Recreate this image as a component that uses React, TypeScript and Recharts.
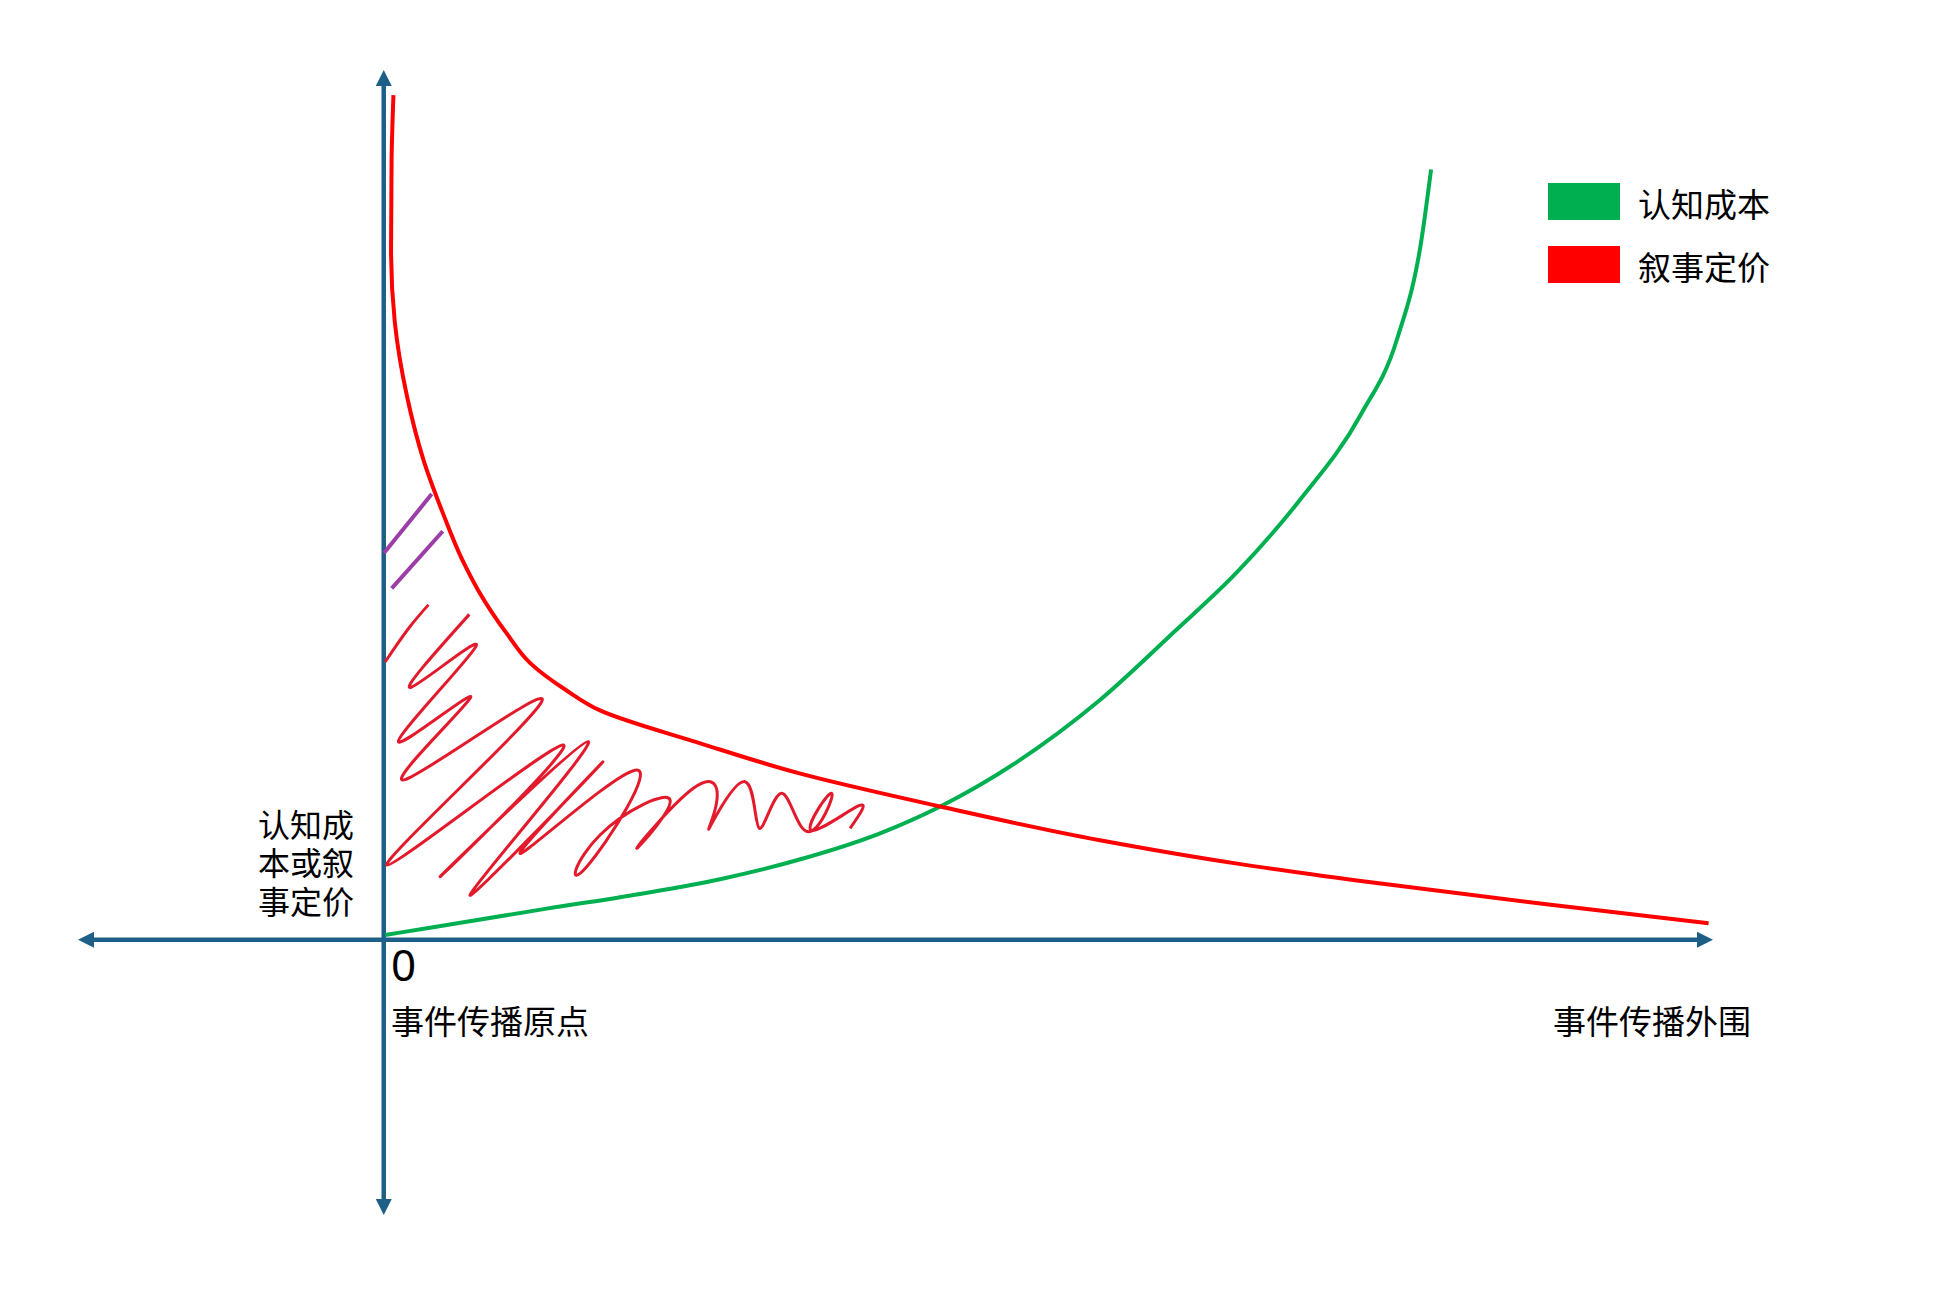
import { LineChart, Line, XAxis, YAxis, ReferenceLine } from "recharts";

// 事件传播距离 (x) vs 认知成本 / 叙事定价 (y), arbitrary units
const cognitiveCost = [
  { x: 0.1, y: 0.55 },
  { x: 3.48, y: 1.4 },
  { x: 12.26, y: 3.6 },
  { x: 19.28, y: 5.3 },
  { x: 25.3, y: 7.0 },
  { x: 31.35, y: 9.3 },
  { x: 37.34, y: 12.3 },
  { x: 41.87, y: 15.4 },
  { x: 53.88, y: 27.7 },
  { x: 59.55, y: 35.7 },
  { x: 64.21, y: 42.5 },
  { x: 68.86, y: 50.7 },
  { x: 73.51, y: 60.7 },
  { x: 76.21, y: 69.3 },
  { x: 78.07, y: 80.9 },
  { x: 78.79, y: 89.0 },
];

const narrativePricing = [
  { x: 0.73, y: 97.6 },
  { x: 0.59, y: 90.0 },
  { x: 0.55, y: 79.7 },
  { x: 0.83, y: 71.4 },
  { x: 1.75, y: 62.8 },
  { x: 3.0, y: 55.4 },
  { x: 4.45, y: 49.3 },
  { x: 5.94, y: 43.8 },
  { x: 7.1, y: 40.4 },
  { x: 9.25, y: 35.4 },
  { x: 11.0, y: 32.0 },
  { x: 13.76, y: 28.8 },
  { x: 16.27, y: 26.5 },
  { x: 23.82, y: 22.7 },
  { x: 31.35, y: 19.2 },
  { x: 41.87, y: 15.4 },
  { x: 53.88, y: 11.5 },
  { x: 64.21, y: 8.8 },
  { x: 73.51, y: 6.8 },
  { x: 87.47, y: 4.1 },
  { x: 99.67, y: 1.9 },
];

// hand-drawn marks inside the gap
const hatchTop = [
  { x: 3.61, y: 51.5 },
  { x: 0.02, y: 44.7 },
];
const hatchBottom = [
  { x: 4.44, y: 47.2 },
  { x: 0.6, y: 40.6 },
];

const scribbleArc = [
  { x: 3.36, y: 38.7 },
  { x: 1.98, y: 36.2 },
  { x: 0.72, y: 33.5 },
  { x: 0.1, y: 32.1 },
];

const scribbleZigzag = [
  { x: 6.44, y: 37.6 },
  { x: 2.1, y: 29.2 },
  { x: 6.94, y: 33.9 },
  { x: 1.1, y: 22.9 },
  { x: 6.54, y: 28.0 },
  { x: 1.6, y: 18.5 },
  { x: 11.88, y: 27.5 },
  { x: 0.23, y: 8.64 },
  { x: 13.51, y: 22.5 },
  { x: 4.24, y: 7.29 },
  { x: 15.39, y: 22.9 },
  { x: 6.49, y: 5.18 },
  { x: 16.4, y: 20.4 },
  { x: 10.25, y: 10.0 },
  { x: 18.9, y: 19.6 },
  { x: 15.27, y: 8.45 },
  { x: 16.27, y: 12.11 },
  { x: 21.54, y: 16.15 },
  { x: 19.03, y: 10.57 },
  { x: 23.29, y: 17.5 },
  { x: 25.05, y: 15.96 },
  { x: 24.55, y: 13.07 },
  { x: 27.18, y: 18.27 },
  { x: 28.26, y: 12.88 },
  { x: 29.94, y: 16.93 },
  { x: 31.94, y: 12.49 },
  { x: 33.7, y: 16.93 },
  { x: 32.12, y: 12.69 },
  { x: 35.7, y: 15.46 },
  { x: 35.08, y: 12.88 },
];

const legendItems = [
  { name: "认知成本", color: "#00B050" },
  { name: "叙事定价", color: "#FF0000" },
];

const yAxisLabel = ["认知成", "本或叙", "事定价"];
const originLabel = "事件传播原点";
const outerLabel = "事件传播外围";

const AXIS = "#1D5F86";
const CJK = '"Microsoft YaHei", "Noto Sans CJK SC", sans-serif';

function ArrowAxis(props: any) {
  const { x1, y1, x2, y2 } = props;
  const a = 16;
  const h = 8;
  if (Math.abs(y1 - y2) < 1) {
    const lo = Math.min(x1, x2);
    const hi = Math.max(x1, x2);
    return (
      <g>
        <line x1={lo + 10} y1={y1} x2={hi - 10} y2={y1} stroke={AXIS} strokeWidth={4.5} />
        <path d={`M${lo},${y1}L${lo + a},${y1 - h}L${lo + a},${y1 + h}Z`} fill={AXIS} />
        <path d={`M${hi},${y1}L${hi - a},${y1 - h}L${hi - a},${y1 + h}Z`} fill={AXIS} />
      </g>
    );
  }
  const lo = Math.min(y1, y2);
  const hi = Math.max(y1, y2);
  return (
    <g>
      <line x1={x1} y1={lo + 10} x2={x1} y2={hi - 10} stroke={AXIS} strokeWidth={4.5} />
      <path d={`M${x1},${lo}L${x1 - h},${lo + a}L${x1 + h},${lo + a}Z`} fill={AXIS} />
      <path d={`M${x1},${hi}L${x1 - h},${hi - a}L${x1 + h},${hi - a}Z`} fill={AXIS} />
    </g>
  );
}

export default function App() {
  return (
    <div style={{ position: "absolute", left: 0, top: 0, width: 1940, height: 1304, background: "#fff" }}>
      <LineChart
        width={1940}
        height={1304}
        margin={{ top: 70, right: 227, bottom: 89, left: 78 }}
      >
        <XAxis type="number" dataKey="x" domain={[-23, 100]} allowDataOverflow hide />
        <YAxis type="number" dataKey="y" domain={[-31.8, 100.5]} allowDataOverflow hide />
        <ReferenceLine y={0} shape={ArrowAxis} />
        <ReferenceLine x={0} shape={ArrowAxis} />
        <Line
          data={hatchTop}
          dataKey="y"
          type="linear"
          stroke="#9B3FA6"
          strokeWidth={4}
          dot={false}
          activeDot={false}
          isAnimationActive={false}
        />
        <Line
          data={hatchBottom}
          dataKey="y"
          type="linear"
          stroke="#9B3FA6"
          strokeWidth={4}
          dot={false}
          activeDot={false}
          isAnimationActive={false}
        />
        <Line
          data={scribbleArc}
          dataKey="y"
          type="natural"
          stroke="#E31A2C"
          strokeWidth={3}
          dot={false}
          activeDot={false}
          isAnimationActive={false}
        />
        <Line
          data={scribbleZigzag}
          dataKey="y"
          type="natural"
          stroke="#E31A2C"
          strokeWidth={3}
          strokeLinejoin="round"
          dot={false}
          activeDot={false}
          isAnimationActive={false}
        />
        <Line
          data={cognitiveCost}
          dataKey="y"
          name="认知成本"
          type="monotone"
          stroke="#00B050"
          strokeWidth={4}
          dot={false}
          activeDot={false}
          isAnimationActive={false}
        />
        <Line
          data={narrativePricing}
          dataKey="y"
          name="叙事定价"
          type="monotoneY"
          stroke="#FF0000"
          strokeWidth={4}
          dot={false}
          activeDot={false}
          isAnimationActive={false}
        />
      </LineChart>
      <svg
        width={1940}
        height={1304}
        style={{ position: "absolute", left: 0, top: 0, pointerEvents: "none" }}
      >
        {legendItems.map((item, i) => (
          <g key={item.name}>
            <rect x={1548} y={183 + i * 63} width={72} height={37} fill={item.color} />
            <text x={1638} y={217 + i * 63} fontSize={33} fontFamily={CJK} fill="#000">
              {item.name}
            </text>
          </g>
        ))}
        <text x={391} y={981} fontSize={44} fontFamily='"Noto Sans", sans-serif' fill="#000">
          0
        </text>
        <text x={391} y={1034} fontSize={33} fontFamily={CJK} fill="#000">
          {originLabel}
        </text>
        <text x={1553} y={1034} fontSize={33} fontFamily={CJK} fill="#000">
          {outerLabel}
        </text>
      </svg>
      <div
        style={{
          position: "absolute",
          left: 258,
          top: 806.6,
          fontSize: 32,
          lineHeight: "38.5px",
          fontFamily: '"Liberation Sans", "Noto Sans CJK SC", sans-serif',
          color: "#000",
          whiteSpace: "nowrap",
        }}
      >
        {yAxisLabel.map((line) => (
          <div key={line} style={{ height: 38.5 }}>
            {line}
          </div>
        ))}
      </div>
    </div>
  );
}
